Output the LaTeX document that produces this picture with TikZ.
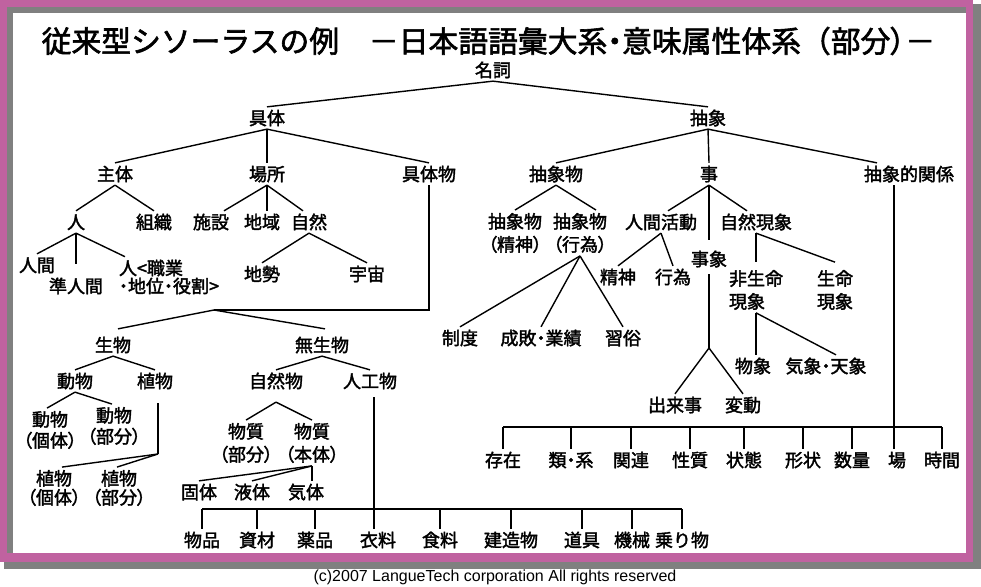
\documentclass[tikz,border=0pt]{standalone}
\usepackage{fontspec}
\setmainfont{Noto Sans CJK JP}[FakeBold=2]
\newfontfamily\paltfont{Noto Sans CJK JP}[FakeBold=2,RawFeature=+palt]
\newfontfamily\copyfont{Liberation Sans}
\newcommand\hdot{{\paltfont ・}}
\definecolor{framepink}{RGB}{192,98,160}
\definecolor{framegray}{RGB}{128,128,128}
\begin{document}
\begin{tikzpicture}[x=1pt,y=-1pt,line width=1.4pt,
  term/.style={font=\fontsize{18}{21}\selectfont,inner sep=0pt,outer sep=3pt,text height=15pt,text depth=1.3pt},
  term2/.style={font=\paltfont\fontsize{18}{21}\selectfont,inner sep=0pt,outer sep=3pt,align=center}]
\useasboundingbox (0,0) rectangle (981,586);
%%% frame
\fill[white] (0,0) rectangle (981,586);
\fill[framegray] (4,4) rectangle (981,569);
\fill[framepink] (0,0) rectangle (973,562);
\fill[framegray] (7,7) rectangle (966,553);
\fill[white] (13,13) rectangle (966,553);
\node[anchor=west,inner sep=0pt,font=\fontsize{29.8}{34}\selectfont] (title) at (41,41)
{従来型シソーラスの例　－日本語語彙大系\hdot 意味属性体系（部分{\paltfont ）}－};
\node[inner sep=0pt,font=\copyfont\fontsize{16}{18}\selectfont] (copyright) at (495,577)
{(c)2007 LangueTech corporation All rights reserved};
%%% top
\node[term] (meishi) at (493,70) {名詞};
\node[term] (gutai) at (267,118) {具体};
\node[term] (chusho) at (708,118) {抽象};
%%% gutai
\node[term] (shutai) at (115,174) {主体};
\node[term] (basho) at (267,174) {場所};
\node[term] (gutaibutsu) at (429,174) {具体物};
\node[term] (hito) at (76,222) {人};
\node[term] (soshiki) at (154,222) {組織};
\node[term] (shisetsu) at (211,222) {施設};
\node[term] (chiiki) at (262,222) {地域};
\node[term] (shizen) at (309,222) {自然};
\node[term] (ningen) at (37,265) {人間};
\node[term] (junningen) at (76,286) {準人間};
\node[term2,anchor=west,align=left] (yakuwari) at (116,277) {人<職業\\[-3pt]・地位・役割>};
\node[term] (chisei) at (262,274) {地勢};
\node[term] (uchu) at (367,274) {宇宙};
%%% gutaibutsu
\node[term] (seibutsu) at (113,345) {生物};
\node[term] (museibutsu) at (322,345) {無生物};
\node[term] (dobutsu) at (75,381) {動物};
\node[term] (shokubutsu) at (155,381) {植物};
\node[term] (shizenbutsu) at (276,381) {自然物};
\node[term] (jinkobutsu) at (370,381) {人工物};
\node[term2] (dokotai) at (50,430) {動物\\（個体）};
\node[term2] (dobubun) at (114,426) {動物\\（部分）};
\node[term2] (shokotai) at (54,488) {植物\\[-2pt]（個体）};
\node[term2] (shobubun) at (119,488) {植物\\[-2pt]（部分）};
\node[term2] (busbubun) at (246,443) {物質\\[2pt]（部分）};
\node[term2] (bushontai) at (312,443) {物質\\[2pt]（本体）};
\node[term] (kotai) at (199,492) {固体};
\node[term] (ekitai) at (252,492) {液体};
\node[term] (kitai) at (306,492) {気体};
\node[term] (buppin) at (202,540) {物品};
\node[term] (shizai) at (257,540) {資材};
\node[term] (yakuhin) at (315,540) {薬品};
\node[term] (iryo) at (378,540) {衣料};
\node[term] (shokuryo) at (440,540) {食料};
\node[term] (kenzobutsu) at (511,540) {建造物};
\node[term] (dogu) at (582,540) {道具};
\node[term] (kikai) at (632,540) {機械};
\node[term] (norimono) at (682,540) {乗り物};
%%% chusho
\node[term] (chushobutsu) at (556,174) {抽象物};
\node[term] (koto) at (709,174) {事};
\node[term] (kankei) at (909,174) {抽象的関係};
\node[term2] (cbseishin) at (515,233) {抽象物\\[2pt]（精神）};
\node[term2] (cbkoi) at (580,233) {抽象物\\[2pt]（行為）};
\node[term] (seido) at (460,338) {制度};
\node[term] (seihai) at (541,338) {成敗\hdot 業績};
\node[term] (shuzoku) at (623,338) {習俗};
\node[term] (ningenkatsudo) at (661,222) {人間活動};
\node[term] (shizengensho) at (756,222) {自然現象};
\node[term] (jisho) at (709,259) {事象};
\node[term] (seishin) at (618,277) {精神};
\node[term] (koi) at (673,277) {行為};
\node[term] (dekigoto) at (675,405) {出来事};
\node[term] (hendo) at (743,405) {変動};
\node[term2,anchor=west,align=left] (hiseimei) at (726,290) {非生命\\[2pt]現象};
\node[term2] (seimei) at (835,290) {生命\\[2pt]現象};
\node[term] (bussho) at (753,366) {物象};
\node[term] (kisho) at (826,366) {気象\hdot 天象};
\node[term] (sonzai) at (503,460) {存在};
\node[term] (rui) at (571,460) {類\hdot 系};
\node[term] (kanren) at (631,460) {関連};
\node[term] (seishitsu) at (690,460) {性質};
\node[term] (jotai) at (744,460) {状態};
\node[term] (keijo) at (803,460) {形状};
\node[term] (suryo) at (852,460) {数量};
\node[term] (ba) at (897,460) {場};
\node[term] (jikan) at (942,460) {時間};
%%%%%%%%%%%%%%%%%%%%%
\draw (meishi.south) -- (gutai.north);
\draw (meishi.south) -- (chusho.north);
\draw (gutai.south) -- (shutai.north);
\draw (gutai.south) -- (basho.north);
\draw (gutai.south) -- (gutaibutsu.north);
\draw (shutai.south) -- (hito.north);
\draw (shutai.south) -- (soshiki.north);
\draw (basho.south) -- ([xshift=13pt]shisetsu.north);
\draw (basho.south) -- (basho.south |- chiiki.north);
\draw (basho.south) -- ([xshift=-6pt]shizen.north);
\draw (shizen.south) -- (chisei.north);
\draw (shizen.south) -- (uchu.north);
\draw (hito.south) -- (ningen.north);
\draw (hito.south) -- ([yshift=11pt]junningen.north);
\draw (hito.south) -- ([xshift=9pt]yakuwari.north west);
%%%%
\coordinate (buturui) at (214,310);
\draw (gutaibutsu.south) |- (buturui);
\draw (buturui) -- ([xshift=5pt,yshift=5pt]seibutsu.north);
\draw (buturui) -- ([xshift=3pt,yshift=5pt]museibutsu.north);
\draw (seibutsu.south) -- (dobutsu.north);
\draw (seibutsu.south) -- (shokubutsu.north);
\draw (museibutsu.south) -- (shizenbutsu.north);
\draw (museibutsu.south) -- (jinkobutsu.north);
\draw (dobutsu.south) -- ([xshift=-3pt]dokotai.north);
\draw (dobutsu.south) -- ([xshift=-2pt]dobubun.north);
\coordinate (shokuj) at (158,454);
\draw ([xshift=3pt,yshift=-11pt]shokubutsu.south) -- (shokuj);
\draw (shokuj) -- ([xshift=8pt]shokotai.north);
\draw (shokuj) -- ([xshift=-2pt]shobubun.north);
\draw ([yshift=-10pt]shizenbutsu.south) -- (busbubun.north);
\draw ([yshift=-10pt]shizenbutsu.south) -- (bushontai.north);
\draw (bushontai.south) -- (kotai.north);
\draw (bushontai.south) -- (ekitai.north);
\draw (bushontai.south) -- (bushontai.south |- kitai.north);
%%%%
\coordinate (artbus) at (0,509);
\coordinate (jstem) at ([xshift=4pt,yshift=-5pt]jinkobutsu.south);
\draw (jstem) -- (jstem |- iryo.north);
\draw (buppin.north |- artbus) -- (norimono.north |- artbus);
\draw (buppin.north) -- (buppin.north |- artbus);
\draw (shizai.north) -- (shizai.north |- artbus);
\draw (yakuhin.north) -- (yakuhin.north |- artbus);
\draw (shokuryo.north) -- (shokuryo.north |- artbus);
\draw (kenzobutsu.north) -- (kenzobutsu.north |- artbus);
\draw (dogu.north) -- (dogu.north |- artbus);
\draw (kikai.north) -- (kikai.north |- artbus);
\draw (norimono.north) -- (norimono.north |- artbus);
%%%%%%%%%%%%%%%%%%%%%
\draw (chusho.south) -- (chushobutsu.north);
\draw (chusho.south) -- (koto.north);
\draw (chusho.south) -- ([xshift=-32pt]kankei.north);
\draw (chushobutsu.south) -- (cbseishin.north);
\draw (chushobutsu.south) -- ([xshift=16pt]cbkoi.north);
\draw (cbkoi.south) -- (seido.north);
\draw (cbkoi.south) -- (seihai.north);
\draw (cbkoi.south) -- (shuzoku.north);
\draw (koto.south) -- ([xshift=7pt]ningenkatsudo.north);
\draw (koto.south) -- ([yshift=8pt]jisho.north);
\draw (koto.south) -- ([xshift=-9pt]shizengensho.north);
\draw (ningenkatsudo.south) -- (seishin.north);
\draw (ningenkatsudo.south) -- (koi.north);
\coordinate (jishoj) at (709,348);
\draw ([yshift=-4pt]jisho.south) -- (jishoj);
\draw (jishoj) -- (dekigoto.north);
\draw (jishoj) -- (hendo.north);
\draw (shizengensho.south) -- ([yshift=5pt]hiseimei.north);
\draw (shizengensho.south) -- ([yshift=5pt]seimei.north);
\draw (hiseimei.south) -- (hiseimei.south |- bussho.north);
\draw (hiseimei.south) -- ([xshift=10pt]kisho.north);
%%%%
\coordinate (relbus) at (0,427);
\coordinate (kstem) at ([xshift=-15pt]kankei.south);
\draw (kstem) -- (kstem |- ba.north);
\draw (sonzai.north |- relbus) -- (jikan.north |- relbus);
\draw (sonzai.north) -- (sonzai.north |- relbus);
\draw (rui.north) -- (rui.north |- relbus);
\draw (kanren.north) -- (kanren.north |- relbus);
\draw (seishitsu.north) -- (seishitsu.north |- relbus);
\draw (jotai.north) -- (jotai.north |- relbus);
\draw (keijo.north) -- (keijo.north |- relbus);
\draw (suryo.north) -- (suryo.north |- relbus);
\draw (jikan.north) -- (jikan.north |- relbus);
\end{tikzpicture}
\end{document}
